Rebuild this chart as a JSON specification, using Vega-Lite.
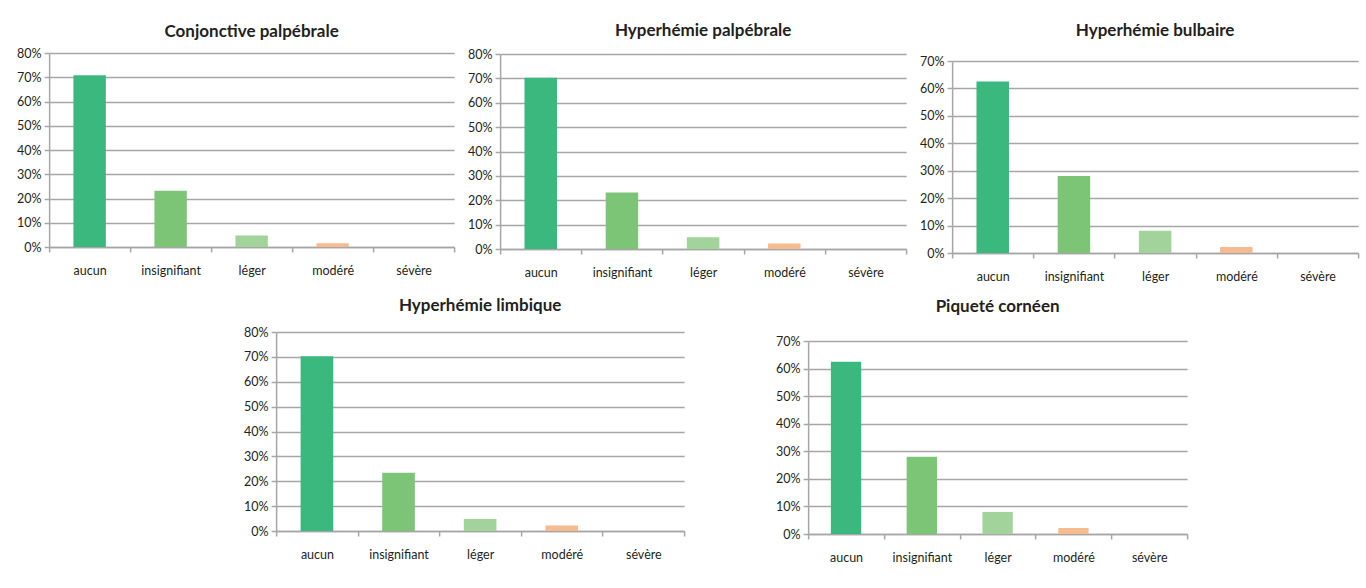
{
  "$schema": "https://vega.github.io/schema/vega-lite/v6.json",
  "background": "white",
  "padding": {"left": 16, "top": 22, "right": 8, "bottom": 5},
  "datasets": {
    "d": [
      {"panel": "Conjonctive palpébrale", "niveau": "aucun", "pct": 0.708},
      {"panel": "Conjonctive palpébrale", "niveau": "insignifiant", "pct": 0.232},
      {"panel": "Conjonctive palpébrale", "niveau": "léger", "pct": 0.047},
      {"panel": "Conjonctive palpébrale", "niveau": "modéré", "pct": 0.015},
      {"panel": "Conjonctive palpébrale", "niveau": "sévère", "pct": 0},
      {"panel": "Hyperhémie palpébrale", "niveau": "aucun", "pct": 0.703},
      {"panel": "Hyperhémie palpébrale", "niveau": "insignifiant", "pct": 0.232},
      {"panel": "Hyperhémie palpébrale", "niveau": "léger", "pct": 0.048},
      {"panel": "Hyperhémie palpébrale", "niveau": "modéré", "pct": 0.023},
      {"panel": "Hyperhémie palpébrale", "niveau": "sévère", "pct": 0},
      {"panel": "Hyperhémie bulbaire", "niveau": "aucun", "pct": 0.625},
      {"panel": "Hyperhémie bulbaire", "niveau": "insignifiant", "pct": 0.281},
      {"panel": "Hyperhémie bulbaire", "niveau": "léger", "pct": 0.081},
      {"panel": "Hyperhémie bulbaire", "niveau": "modéré", "pct": 0.022},
      {"panel": "Hyperhémie bulbaire", "niveau": "sévère", "pct": 0},
      {"panel": "Hyperhémie limbique", "niveau": "aucun", "pct": 0.703},
      {"panel": "Hyperhémie limbique", "niveau": "insignifiant", "pct": 0.234},
      {"panel": "Hyperhémie limbique", "niveau": "léger", "pct": 0.048},
      {"panel": "Hyperhémie limbique", "niveau": "modéré", "pct": 0.022},
      {"panel": "Hyperhémie limbique", "niveau": "sévère", "pct": 0},
      {"panel": "Piqueté cornéen", "niveau": "aucun", "pct": 0.625},
      {"panel": "Piqueté cornéen", "niveau": "insignifiant", "pct": 0.28},
      {"panel": "Piqueté cornéen", "niveau": "léger", "pct": 0.08},
      {"panel": "Piqueté cornéen", "niveau": "modéré", "pct": 0.022},
      {"panel": "Piqueté cornéen", "niveau": "sévère", "pct": 0}
    ]
  },
  "config": {
    "view": {"stroke": null},
    "font": "Lato",
    "title": {"font": "Lato", "fontSize": 17, "fontWeight": "bold", "color": "#231f20", "anchor": "middle"},
    "axis": {
      "labelFont": "Lato", "labelFontSize": 12.5, "labelColor": "#231f20",
      "domainColor": "#a6a6a6", "domainWidth": 1.5, "tickColor": "#a6a6a6", "tickWidth": 1.5,
      "gridColor": "#a6a6a6", "gridWidth": 1.5, "title": null
    },
    "axisX": {"grid": false, "tickBand": "extent", "tickSize": 5, "labelPadding": 12, "labelAngle": 0},
    "axisY": {"grid": true, "tickSize": 5, "labelPadding": 3, "format": ".0%"},
    "bar": {"width": {"band": 0.4}},
    "concat": {"spacing": 12}
  },
  "vconcat": [
    {
      "hconcat": [
        {
          "title": {"text": "Conjonctive palpébrale", "offset": 6},
          "width": 405, "height": 194,
          "data": {"name": "d"},
          "transform": [{"filter": "datum.panel === 'Conjonctive palpébrale'"}],
          "mark": {"type": "bar"},
          "encoding": {
            "x": {"field": "niveau", "type": "nominal", "sort": null, "scale": {"paddingInner": 0, "paddingOuter": 0}},
            "y": {"field": "pct", "type": "quantitative", "scale": {"domain": [0, 0.8], "nice": false, "range": [194, 0]}, "axis": {"values": [0, 0.1, 0.2, 0.3, 0.4, 0.5, 0.6, 0.7, 0.8]}},
            "color": {"field": "niveau", "type": "nominal", "sort": null, "legend": null,
              "scale": {"domain": ["aucun", "insignifiant", "léger", "modéré", "sévère"], "range": ["#3ab87e", "#7dc576", "#a2d39a", "#f6bb8e", "#e88b6b"]}}
          }
        },
        {
          "title": {"text": "Hyperhémie palpébrale", "offset": 8},
          "width": 406, "height": 196,
          "data": {"name": "d"},
          "transform": [{"filter": "datum.panel === 'Hyperhémie palpébrale'"}],
          "mark": {"type": "bar"},
          "encoding": {
            "x": {"field": "niveau", "type": "nominal", "sort": null, "scale": {"paddingInner": 0, "paddingOuter": 0}},
            "y": {"field": "pct", "type": "quantitative", "scale": {"domain": [0, 0.8], "nice": false, "range": [196, 1]}, "axis": {"values": [0, 0.1, 0.2, 0.3, 0.4, 0.5, 0.6, 0.7, 0.8]}},
            "color": {"field": "niveau", "type": "nominal", "sort": null, "legend": null,
              "scale": {"domain": ["aucun", "insignifiant", "léger", "modéré", "sévère"], "range": ["#3ab87e", "#7dc576", "#a2d39a", "#f6bb8e", "#e88b6b"]}}
          }
        },
        {
          "title": {"text": "Hyperhémie bulbaire", "offset": 13},
          "width": 406, "height": 200,
          "data": {"name": "d"},
          "transform": [{"filter": "datum.panel === 'Hyperhémie bulbaire'"}],
          "mark": {"type": "bar"},
          "encoding": {
            "x": {"field": "niveau", "type": "nominal", "sort": null, "scale": {"paddingInner": 0, "paddingOuter": 0}},
            "y": {"field": "pct", "type": "quantitative", "scale": {"domain": [0, 0.7], "nice": false, "range": [200, 8]}, "axis": {"values": [0, 0.1, 0.2, 0.3, 0.4, 0.5, 0.6, 0.7]}},
            "color": {"field": "niveau", "type": "nominal", "sort": null, "legend": null,
              "scale": {"domain": ["aucun", "insignifiant", "léger", "modéré", "sévère"], "range": ["#3ab87e", "#7dc576", "#a2d39a", "#f6bb8e", "#e88b6b"]}}
          }
        }
      ]
    },
    {
      "spacing": 90,
      "hconcat": [
        {
          "title": {"text": "Hyperhémie limbique", "offset": 11, "dx": 28},
          "width": 464, "height": 199,
          "data": {"name": "d"},
          "transform": [{"filter": "datum.panel === 'Hyperhémie limbique'"}],
          "mark": {"type": "bar"},
          "encoding": {
            "x": {"field": "niveau", "type": "nominal", "sort": null, "scale": {"paddingInner": 0, "paddingOuter": 0, "range": [56, 464]}},
            "y": {"field": "pct", "type": "quantitative", "scale": {"domain": [0, 0.8], "nice": false, "range": [199, 0]}, "axis": {"values": [0, 0.1, 0.2, 0.3, 0.4, 0.5, 0.6, 0.7, 0.8], "offset": -56}},
            "color": {"field": "niveau", "type": "nominal", "sort": null, "legend": null,
              "scale": {"domain": ["aucun", "insignifiant", "léger", "modéré", "sévère"], "range": ["#3ab87e", "#7dc576", "#a2d39a", "#f6bb8e", "#e88b6b"]}}
          }
        },
        {
          "title": {"text": "Piqueté cornéen", "offset": 16},
          "width": 379, "height": 202,
          "data": {"name": "d"},
          "transform": [{"filter": "datum.panel === 'Piqueté cornéen'"}],
          "mark": {"type": "bar"},
          "encoding": {
            "x": {"field": "niveau", "type": "nominal", "sort": null, "scale": {"paddingInner": 0, "paddingOuter": 0}},
            "y": {"field": "pct", "type": "quantitative", "scale": {"domain": [0, 0.7], "nice": false, "range": [202, 9]}, "axis": {"values": [0, 0.1, 0.2, 0.3, 0.4, 0.5, 0.6, 0.7]}},
            "color": {"field": "niveau", "type": "nominal", "sort": null, "legend": null,
              "scale": {"domain": ["aucun", "insignifiant", "léger", "modéré", "sévère"], "range": ["#3ab87e", "#7dc576", "#a2d39a", "#f6bb8e", "#e88b6b"]}}
          }
        }
      ]
    }
  ],
  "center": true,
  "spacing": 14
}
